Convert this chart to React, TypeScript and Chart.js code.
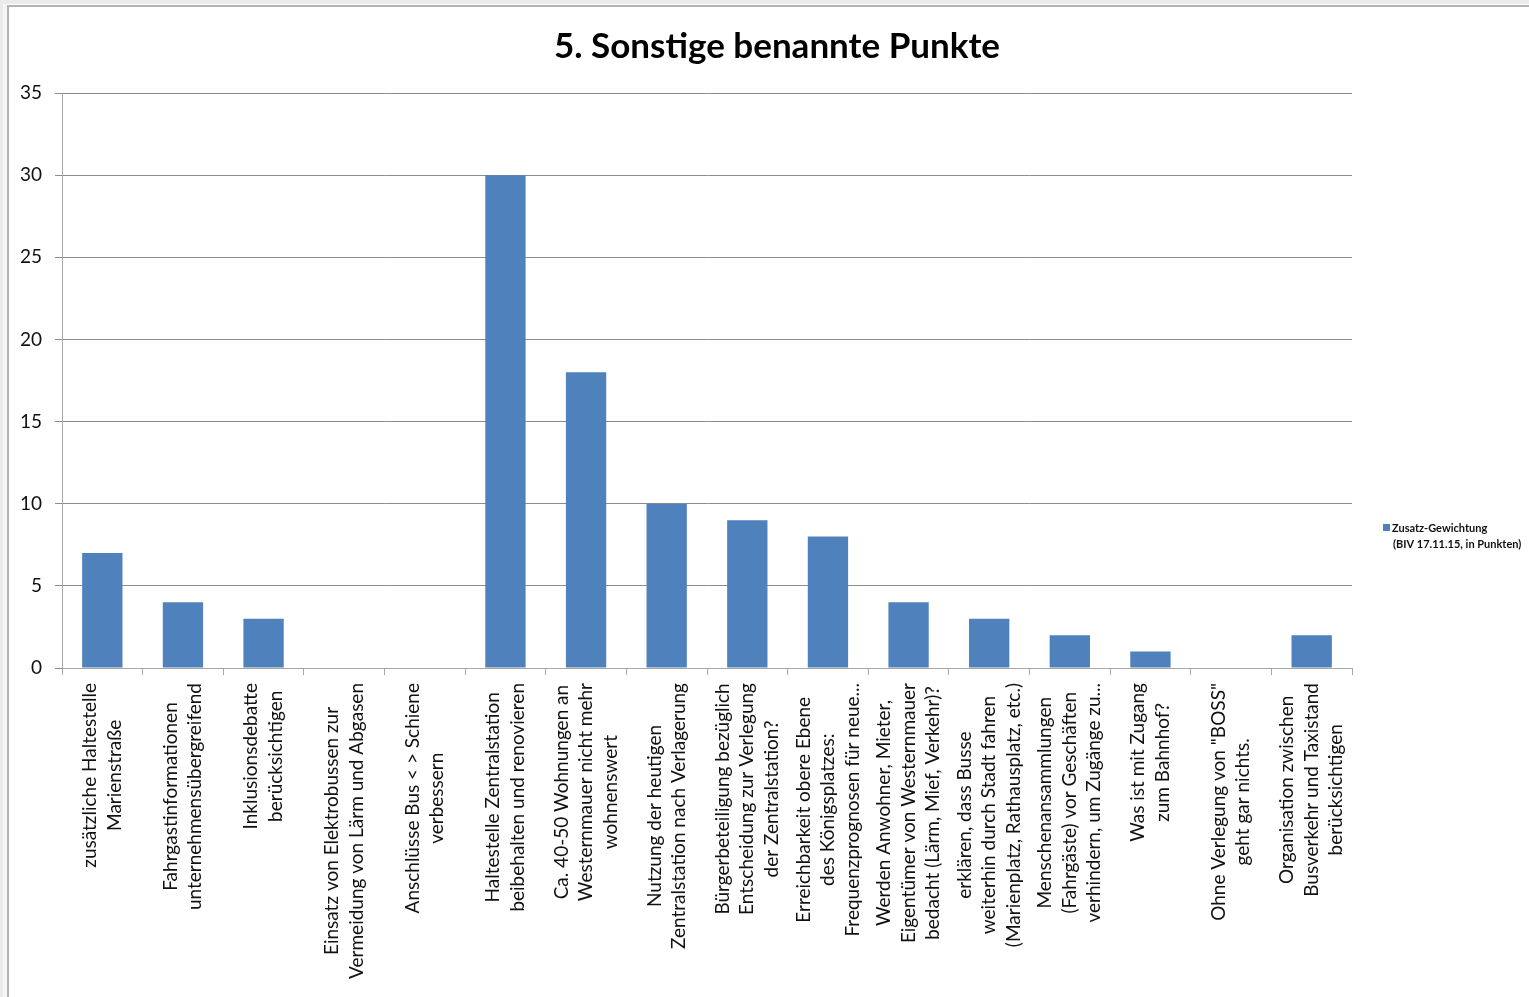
import React, { useEffect, useRef } from "react";
import { Chart, registerables } from "chart.js";

Chart.register(...registerables);

const TITLE = "5. Sonstige benannte Punkte";

const categoryLabels: string[][] = [
  ["zusätzliche Haltestelle", "Marienstraße"],
  ["Fahrgastinformationen", "unternehmensübergreifend"],
  ["Inklusionsdebatte", "berücksichtigen"],
  ["Einsatz von Elektrobussen zur", "Vermeidung von Lärm und Abgasen"],
  ["Anschlüsse Bus < > Schiene", "verbessern"],
  ["Haltestelle Zentralstation", "beibehalten und renovieren"],
  ["Ca. 40-50 Wohnungen an", "Westernmauer nicht mehr", "wohnenswert"],
  ["Nutzung der heutigen", "Zentralstation nach Verlagerung"],
  ["Bürgerbeteiligung bezüglich", "Entscheidung zur Verlegung", "der Zentralstation?"],
  ["Erreichbarkeit obere Ebene", "des Königsplatzes:", "Frequenzprognosen für neue..."],
  ["Werden Anwohner, Mieter,", "Eigentümer von Westernmauer", "bedacht (Lärm, Mief, Verkehr)?"],
  ["erklären, dass Busse", "weiterhin durch Stadt fahren", "(Marienplatz, Rathausplatz, etc.)"],
  ["Menschenansammlungen", "(Fahrgäste) vor Geschäften", "verhindern, um Zugänge zu..."],
  ["Was ist mit Zugang", "zum Bahnhof?"],
  ["Ohne Verlegung von \"BOSS\"", "geht gar nichts."],
  ["Organisation zwischen", "Busverkehr und Taxistand", "berücksichtigen"],
];

const values: number[] = [7, 4, 3, 0, 0, 30, 18, 10, 9, 8, 4, 3, 2, 1, 0, 2];

const seriesLabelLines: string[] = ["Zusatz-Gewichtung", "(BIV 17.11.15, in Punkten)"];

const Y_MIN = 0;
const Y_MAX = 35;
const Y_STEP = 5;

const FONT = "Lato, 'Open Sans', sans-serif";
const BAR_COLOR = "#4F81BD";
const TEXT_COLOR = "#111111";

const W = 1529;
const H = 997;

const decorPlugin = {
  id: "decor",
  beforeDraw(chart: any) {
    const ctx = chart.ctx as CanvasRenderingContext2D;
    ctx.save();
    ctx.fillStyle = "#ffffff";
    ctx.fillRect(0, 0, W, H);
    ctx.fillStyle = "#ebebeb";
    ctx.fillRect(0, 0, W, 4);
    ctx.fillRect(0, 0, 3, H);
    ctx.fillStyle = "#f6f6f6";
    ctx.fillRect(3, 4, 4, H - 4);
    ctx.strokeStyle = "#b3b3b3";
    ctx.lineWidth = 2;
    ctx.beginPath();
    ctx.moveTo(8, H);
    ctx.lineTo(8, 6);
    ctx.lineTo(W, 6);
    ctx.stroke();
    ctx.restore();
  },
  afterDraw(chart: any) {
    const ctx = chart.ctx as CanvasRenderingContext2D;
    const xScale = chart.scales.x;
    ctx.save();

    // Title
    ctx.fillStyle = "#000000";
    ctx.font = `bold 35px ${FONT}`;
    ctx.textAlign = "center";
    ctx.textBaseline = "alphabetic";
    ctx.fillText(TITLE, 777, 58);

    // Category labels (rotated, centered lines)
    ctx.font = `19px ${FONT}`;
    ctx.fillStyle = TEXT_COLOR;
    const lineH = 24.5;
    const topY = chart.chartArea.bottom + 15;
    categoryLabels.forEach((lines, i) => {
      const x = xScale.getPixelForValue(i);
      const maxW = Math.max(...lines.map((l) => ctx.measureText(l).width));
      ctx.save();
      ctx.translate(x, topY);
      ctx.rotate(-Math.PI / 2);
      ctx.textAlign = "center";
      ctx.textBaseline = "middle";
      const n = lines.length;
      lines.forEach((line, j) => {
        ctx.fillText(line, -maxW / 2, (j - (n - 1) / 2) * lineH);
      });
      ctx.restore();
    });

    // Legend
    ctx.fillStyle = BAR_COLOR;
    ctx.fillRect(1383, 524, 7, 7);
    ctx.fillStyle = TEXT_COLOR;
    ctx.font = `bold 11px ${FONT}`;
    ctx.textAlign = "left";
    ctx.textBaseline = "middle";
    ctx.fillText(seriesLabelLines[0], 1392, 528);
    ctx.fillText(seriesLabelLines[1], 1393, 544);

    ctx.restore();
  },
};

export default function App() {
  const canvasRef = useRef<HTMLCanvasElement | null>(null);

  useEffect(() => {
    const canvas = canvasRef.current;
    if (!canvas) return;
    const chart = new Chart(canvas, {
      type: "bar",
      data: {
        labels: categoryLabels.map((l) => l.join(" ")),
        datasets: [
          {
            label: seriesLabelLines.join(" "),
            data: values,
            backgroundColor: BAR_COLOR,
            borderWidth: 0,
            categoryPercentage: 1,
            barPercentage: 0.5,
          },
        ],
      },
      plugins: [decorPlugin],
      options: {
        responsive: false,
        animation: false,
        devicePixelRatio: 1,
        layout: { padding: { left: 0, top: 93, right: 177, bottom: 329 } },
        plugins: {
          legend: { display: false },
          title: { display: false },
          tooltip: { enabled: false },
        },
        scales: {
          x: {
            grid: {
              offset: true,
              drawOnChartArea: false,
              drawTicks: true,
              tickLength: 7,
              color: "#a6a6a6",
            },
            border: { color: "#a6a6a6" },
            ticks: { display: false },
            afterFit: (s: any) => {
              s.height = 0;
            },
          },
          y: {
            min: Y_MIN,
            max: Y_MAX,
            ticks: {
              stepSize: Y_STEP,
              padding: 13,
              color: TEXT_COLOR,
              font: { family: FONT, size: 19 },
            },
            grid: { color: "#8c8c8c", tickLength: 7 },
            border: { color: "#a6a6a6" },
            afterFit: (s: any) => {
              s.width = 62;
            },
          },
        },
      } as any,
    });
    return () => chart.destroy();
  }, []);

  return (
    <div style={{ position: "absolute", left: 0, top: 0, width: W, height: H, overflow: "hidden" }}>
      <canvas ref={canvasRef} width={W} height={H} style={{ display: "block", width: W, height: H }} />
    </div>
  );
}
